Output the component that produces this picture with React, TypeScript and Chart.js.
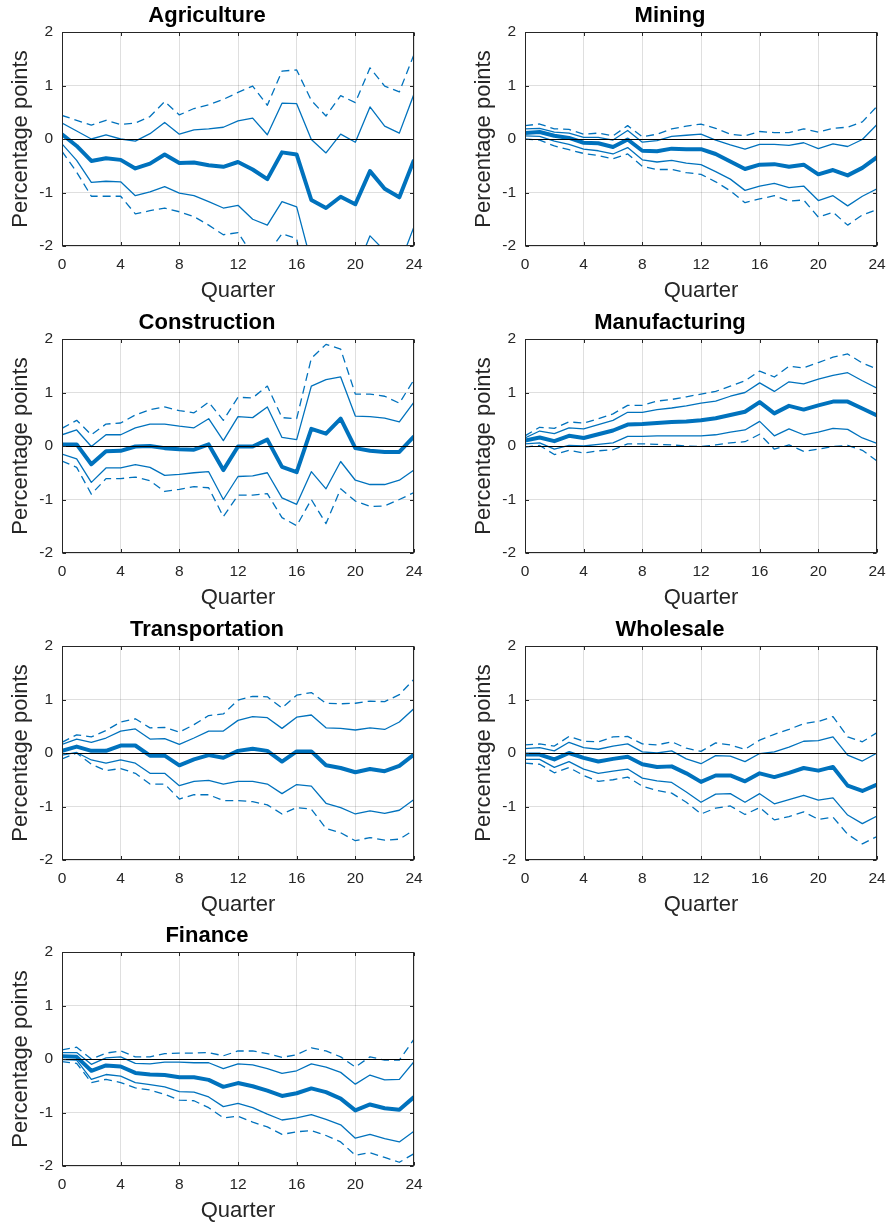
import React, { useEffect, useRef } from "react";
import { Chart, registerables } from "chart.js";

Chart.register(...registerables);

// Impulse responses by sector: median with 68% and 90% bands, quarters 0..24
const QUARTERS = [0, 1, 2, 3, 4, 5, 6, 7, 8, 9, 10, 11, 12, 13, 14, 15, 16, 17, 18, 19, 20, 21, 22, 23, 24];

const AGR_MED = [0.09, -0.13, -0.41, -0.36, -0.39, -0.55, -0.46, -0.29, -0.45, -0.44, -0.49, -0.52, -0.43, -0.57, -0.75, -0.25, -0.29, -1.14, -1.29, -1.08, -1.22, -0.6, -0.93, -1.09, -0.39];
const AGR_HI68 = [0.3, 0.15, 0.0, 0.075, 0.0, -0.04, 0.1, 0.31, 0.09, 0.17, 0.19, 0.22, 0.34, 0.39, 0.08, 0.67, 0.66, -0.01, -0.26, 0.09, -0.06, 0.6, 0.24, 0.11, 0.84];
const AGR_HI90 = [0.44, 0.35, 0.26, 0.35, 0.27, 0.3, 0.42, 0.7, 0.45, 0.57, 0.64, 0.74, 0.87, 0.99, 0.63, 1.27, 1.29, 0.72, 0.43, 0.81, 0.68, 1.33, 0.99, 0.88, 1.58];
const AGR_LO68 = [-0.09, -0.4, -0.81, -0.79, -0.8, -1.06, -0.99, -0.89, -1.01, -1.06, -1.17, -1.29, -1.24, -1.5, -1.61, -1.17, -1.27, -2.31, -2.6, -2.35, -2.49, -1.81, -2.09, -2.36, -1.64];
const AGR_LO90 = [-0.23, -0.62, -1.07, -1.07, -1.07, -1.4, -1.34, -1.29, -1.36, -1.45, -1.61, -1.79, -1.75, -2.17, -2.15, -1.77, -1.86, -3.4, -3.3, -3.1, -3.2, -2.6, -2.8, -3.0, -2.4];

const MIN_MED = [0.11, 0.13, 0.06, 0.02, -0.07, -0.08, -0.15, -0.01, -0.22, -0.23, -0.18, -0.19, -0.19, -0.28, -0.42, -0.56, -0.48, -0.47, -0.52, -0.48, -0.66, -0.58, -0.68, -0.54, -0.34];
const MIN_HI68 = [0.19, 0.2, 0.13, 0.11, 0.03, 0.03, -0.02, 0.16, -0.06, -0.03, 0.05, 0.07, 0.09, -0.02, -0.11, -0.19, -0.1, -0.1, -0.12, -0.07, -0.18, -0.09, -0.14, -0.01, 0.27];
const MIN_HI90 = [0.25, 0.28, 0.19, 0.18, 0.09, 0.11, 0.06, 0.25, 0.04, 0.09, 0.19, 0.24, 0.28, 0.2, 0.09, 0.06, 0.14, 0.12, 0.12, 0.19, 0.13, 0.2, 0.22, 0.32, 0.61];
const MIN_LO68 = [0.06, 0.05, -0.04, -0.1, -0.19, -0.22, -0.28, -0.16, -0.39, -0.43, -0.4, -0.45, -0.48, -0.61, -0.75, -0.96, -0.88, -0.83, -0.91, -0.88, -1.15, -1.06, -1.25, -1.07, -0.93];
const MIN_LO90 = [0.0, -0.02, -0.13, -0.2, -0.27, -0.31, -0.37, -0.28, -0.51, -0.57, -0.57, -0.63, -0.66, -0.8, -0.97, -1.19, -1.12, -1.06, -1.16, -1.14, -1.46, -1.37, -1.61, -1.42, -1.32];

const CON_MED = [0.03, 0.03, -0.34, -0.1, -0.09, -0.01, 0.0, -0.04, -0.06, -0.07, 0.03, -0.45, -0.01, -0.01, 0.12, -0.39, -0.49, 0.32, 0.23, 0.51, -0.04, -0.09, -0.11, -0.11, 0.18];
const CON_HI68 = [0.21, 0.3, -0.01, 0.21, 0.21, 0.34, 0.41, 0.41, 0.37, 0.34, 0.51, 0.1, 0.55, 0.53, 0.73, 0.16, 0.12, 1.12, 1.24, 1.29, 0.56, 0.55, 0.52, 0.45, 0.82];
const CON_HI90 = [0.33, 0.48, 0.21, 0.41, 0.43, 0.58, 0.68, 0.73, 0.66, 0.62, 0.82, 0.48, 0.91, 0.9, 1.12, 0.53, 0.51, 1.64, 1.9, 1.81, 0.97, 0.97, 0.93, 0.8, 1.24];
const CON_LO68 = [-0.15, -0.24, -0.68, -0.41, -0.41, -0.35, -0.4, -0.55, -0.53, -0.5, -0.48, -1.0, -0.57, -0.56, -0.5, -0.97, -1.09, -0.48, -0.8, -0.29, -0.64, -0.72, -0.72, -0.64, -0.45];
const CON_LO90 = [-0.28, -0.4, -0.9, -0.61, -0.61, -0.58, -0.65, -0.85, -0.81, -0.76, -0.78, -1.32, -0.92, -0.92, -0.89, -1.34, -1.49, -1.0, -1.45, -0.8, -1.03, -1.13, -1.12, -1.0, -0.87];

const MAN_MED = [0.1, 0.16, 0.09, 0.19, 0.15, 0.22, 0.29, 0.4, 0.41, 0.43, 0.45, 0.46, 0.48, 0.52, 0.58, 0.64, 0.82, 0.61, 0.75, 0.68, 0.76, 0.83, 0.83, 0.7, 0.57];
const MAN_HI68 = [0.15, 0.28, 0.23, 0.34, 0.32, 0.4, 0.48, 0.63, 0.63, 0.68, 0.71, 0.75, 0.8, 0.84, 0.93, 1.0, 1.18, 1.02, 1.2, 1.16, 1.25, 1.32, 1.37, 1.22, 1.08];
const MAN_HI90 = [0.19, 0.35, 0.33, 0.45, 0.43, 0.51, 0.6, 0.76, 0.76, 0.84, 0.87, 0.92, 0.97, 1.02, 1.12, 1.22, 1.4, 1.29, 1.49, 1.46, 1.56, 1.66, 1.72, 1.55, 1.44];
const MAN_LO68 = [0.04, 0.06, -0.06, 0.01, 0.0, 0.03, 0.06, 0.18, 0.18, 0.19, 0.19, 0.19, 0.19, 0.21, 0.26, 0.3, 0.46, 0.19, 0.32, 0.21, 0.26, 0.33, 0.31, 0.15, 0.05];
const MAN_LO90 = [-0.02, 0.01, -0.16, -0.08, -0.13, -0.09, -0.07, 0.04, 0.04, 0.03, 0.02, 0.0, -0.01, 0.02, 0.06, 0.08, 0.22, -0.06, 0.02, -0.1, -0.06, -0.01, 0.01, -0.08, -0.28];

const TRA_MED = [0.04, 0.12, 0.04, 0.04, 0.14, 0.14, -0.05, -0.05, -0.23, -0.12, -0.04, -0.09, 0.04, 0.08, 0.04, -0.16, 0.03, 0.03, -0.23, -0.28, -0.36, -0.3, -0.34, -0.24, -0.03];
const TRA_HI68 = [0.16, 0.26, 0.2, 0.28, 0.41, 0.45, 0.26, 0.27, 0.16, 0.28, 0.41, 0.41, 0.61, 0.68, 0.66, 0.46, 0.67, 0.71, 0.47, 0.46, 0.43, 0.47, 0.44, 0.58, 0.83];
const TRA_HI90 = [0.2, 0.34, 0.3, 0.42, 0.58, 0.64, 0.47, 0.48, 0.39, 0.53, 0.7, 0.73, 0.99, 1.06, 1.05, 0.84, 1.08, 1.13, 0.93, 0.92, 0.93, 0.97, 0.96, 1.09, 1.38];
const TRA_LO68 = [-0.04, 0.01, -0.13, -0.19, -0.13, -0.19, -0.38, -0.38, -0.61, -0.53, -0.51, -0.58, -0.53, -0.53, -0.58, -0.76, -0.59, -0.62, -0.94, -1.02, -1.14, -1.08, -1.13, -1.07, -0.87];
const TRA_LO90 = [-0.11, 0.0, -0.21, -0.33, -0.29, -0.38, -0.58, -0.58, -0.86, -0.78, -0.78, -0.89, -0.89, -0.91, -0.97, -1.14, -1.02, -1.05, -1.41, -1.49, -1.64, -1.58, -1.63, -1.61, -1.44];

const WHO_MED = [-0.03, -0.03, -0.12, 0.0, -0.09, -0.16, -0.11, -0.07, -0.21, -0.26, -0.25, -0.38, -0.54, -0.42, -0.42, -0.53, -0.38, -0.45, -0.37, -0.28, -0.33, -0.26, -0.61, -0.71, -0.59];
const WHO_HI68 = [0.08, 0.1, 0.04, 0.2, 0.1, 0.07, 0.13, 0.17, 0.02, 0.0, 0.04, -0.11, -0.2, -0.05, -0.06, -0.16, -0.01, 0.02, 0.11, 0.22, 0.23, 0.3, -0.04, -0.15, 0.0];
const WHO_HI90 = [0.15, 0.17, 0.13, 0.31, 0.22, 0.21, 0.3, 0.31, 0.17, 0.15, 0.21, 0.09, 0.03, 0.19, 0.15, 0.07, 0.24, 0.35, 0.44, 0.55, 0.59, 0.68, 0.3, 0.21, 0.38];
const WHO_LO68 = [-0.12, -0.12, -0.27, -0.16, -0.3, -0.38, -0.34, -0.3, -0.47, -0.52, -0.55, -0.73, -0.92, -0.77, -0.76, -0.92, -0.76, -0.95, -0.87, -0.79, -0.88, -0.84, -1.16, -1.32, -1.18];
const WHO_LO90 = [-0.19, -0.21, -0.37, -0.27, -0.42, -0.53, -0.5, -0.45, -0.62, -0.7, -0.75, -0.92, -1.14, -1.03, -0.99, -1.15, -1.02, -1.25, -1.19, -1.1, -1.24, -1.2, -1.52, -1.7, -1.56];

const FIN_MED = [0.05, 0.04, -0.22, -0.12, -0.14, -0.26, -0.29, -0.3, -0.34, -0.34, -0.39, -0.52, -0.45, -0.51, -0.59, -0.69, -0.64, -0.55, -0.62, -0.74, -0.96, -0.85, -0.92, -0.95, -0.71];
const FIN_HI68 = [0.12, 0.12, -0.1, 0.02, 0.04, -0.08, -0.09, -0.06, -0.06, -0.07, -0.07, -0.18, -0.09, -0.11, -0.18, -0.27, -0.22, -0.09, -0.15, -0.25, -0.47, -0.3, -0.39, -0.38, -0.05];
const FIN_HI90 = [0.17, 0.22, 0.0, 0.11, 0.15, 0.04, 0.04, 0.1, 0.11, 0.11, 0.12, 0.06, 0.15, 0.15, 0.1, 0.03, 0.08, 0.21, 0.15, 0.04, -0.15, 0.04, -0.02, -0.02, 0.37];
const FIN_LO68 = [-0.01, -0.02, -0.38, -0.29, -0.32, -0.44, -0.48, -0.52, -0.61, -0.62, -0.71, -0.89, -0.83, -0.91, -1.03, -1.14, -1.1, -1.04, -1.13, -1.23, -1.48, -1.41, -1.49, -1.55, -1.35];
const FIN_LO90 = [-0.05, -0.08, -0.44, -0.38, -0.44, -0.54, -0.58, -0.66, -0.77, -0.78, -0.91, -1.1, -1.07, -1.18, -1.27, -1.41, -1.36, -1.34, -1.43, -1.55, -1.8, -1.75, -1.84, -1.93, -1.77];

type Panel = {
  title: string;
  med: number[];
  hi68: number[];
  lo68: number[];
  hi90: number[];
  lo90: number[];
};

const PANELS: Panel[] = [
  { title: "Agriculture", med: AGR_MED, hi68: AGR_HI68, lo68: AGR_LO68, hi90: AGR_HI90, lo90: AGR_LO90 },
  { title: "Mining", med: MIN_MED, hi68: MIN_HI68, lo68: MIN_LO68, hi90: MIN_HI90, lo90: MIN_LO90 },
  { title: "Construction", med: CON_MED, hi68: CON_HI68, lo68: CON_LO68, hi90: CON_HI90, lo90: CON_LO90 },
  { title: "Manufacturing", med: MAN_MED, hi68: MAN_HI68, lo68: MAN_LO68, hi90: MAN_HI90, lo90: MAN_LO90 },
  { title: "Transportation", med: TRA_MED, hi68: TRA_HI68, lo68: TRA_LO68, hi90: TRA_HI90, lo90: TRA_LO90 },
  { title: "Wholesale", med: WHO_MED, hi68: WHO_HI68, lo68: WHO_LO68, hi90: WHO_HI90, lo90: WHO_LO90 },
  { title: "Finance", med: FIN_MED, hi68: FIN_HI68, lo68: FIN_LO68, hi90: FIN_HI90, lo90: FIN_LO90 },
];

const Y_TICK_LABELS = ["-2", "-1", "0", "1", "2"];

const BLUE = "#0072BD";
const TEXT = "#262626";
const GRID = "rgba(38,38,38,0.15)";
const FONT = '"Liberation Sans", Arial, Helvetica, sans-serif';

const CANVAS_W = 434;
const CANVAS_H = 306;
const PAD_RIGHT = 20;
const COL_LEFT = [0, 463];
const ROW_TOP = [0, 307, 614, 920];
const TICK_LEN = 3.5;

function line(values: number[], width: number, dash: number[]) {
  return {
    data: values.map((y, i) => ({ x: QUARTERS[i], y })),
    borderColor: BLUE,
    borderWidth: width,
    borderDash: dash,
    borderJoinStyle: "round" as const,
    borderCapStyle: "butt" as const,
    pointRadius: 0,
    tension: 0,
    fill: false,
    clip: 0,
  };
}

// Zero reference line, axes box and inward tick marks
const framePlugin = {
  id: "frame",
  afterDatasetsDraw(chart: any) {
    const { ctx, chartArea: a, scales } = chart;
    const xs = scales.x;
    const ys = scales.y;
    ctx.save();
    const y0 = Math.round(ys.getPixelForValue(0)) + 0.5;
    ctx.strokeStyle = "#000";
    ctx.lineWidth = 1;
    ctx.beginPath();
    ctx.moveTo(a.left, y0);
    ctx.lineTo(a.right, y0);
    ctx.stroke();

    ctx.strokeStyle = TEXT;
    ctx.lineWidth = 1;
    const L = Math.round(a.left) + 0.5;
    const R = Math.round(a.right) - 0.5;
    const T = Math.round(a.top) + 0.5;
    const B = Math.round(a.bottom) - 0.5;
    ctx.strokeRect(L, T, R - L, B - T);
    ctx.beginPath();
    for (const t of xs.ticks) {
      const x = Math.round(xs.getPixelForValue(t.value)) + 0.5;
      ctx.moveTo(x, B);
      ctx.lineTo(x, B - TICK_LEN);
      ctx.moveTo(x, T);
      ctx.lineTo(x, T + TICK_LEN);
    }
    for (const t of ys.ticks) {
      const y = Math.round(ys.getPixelForValue(t.value)) + 0.5;
      ctx.moveTo(L, y);
      ctx.lineTo(L + TICK_LEN, y);
      ctx.moveTo(R, y);
      ctx.lineTo(R - TICK_LEN, y);
    }
    ctx.stroke();
    ctx.restore();
  },
};

function SectorChart({ panel, left, top }: { panel: Panel; left: number; top: number }) {
  const ref = useRef<HTMLCanvasElement | null>(null);

  useEffect(() => {
    if (!ref.current) return;
    const chart = new Chart(ref.current, {
      type: "line",
      data: {
        datasets: [
          line(panel.med, 4, []),
          line(panel.hi68, 1.3, []),
          line(panel.lo68, 1.3, []),
          line(panel.hi90, 1.3, [8, 5]),
          line(panel.lo90, 1.3, [8, 5]),
        ] as any,
      },
      options: {
        responsive: false,
        animation: false,
        events: [],
        layout: { padding: { left: 0, top: 0, right: PAD_RIGHT, bottom: 0 } },
        plugins: {
          legend: { display: false },
          tooltip: { enabled: false },
          title: {
            display: true,
            text: panel.title,
            color: "#000",
            font: { family: FONT, size: 22, weight: "bold", lineHeight: 1.2 },
            padding: { top: 2.9, bottom: 2.7 },
          },
        },
        scales: {
          x: {
            type: "linear",
            min: 0,
            max: 24,
            afterFit: (s: any) => {
              s.height = 60;
            },
            ticks: {
              stepSize: 4,
              maxRotation: 0,
              autoSkip: false,
              padding: 9,
              color: TEXT,
              font: { family: FONT, size: 15.5 },
            },
            grid: { color: GRID, lineWidth: 1, drawTicks: false },
            border: { display: false },
            title: {
              display: true,
              text: "Quarter",
              color: TEXT,
              font: { family: FONT, size: 22, lineHeight: 1.2 },
              padding: { top: 0, bottom: 1.4 },
            },
          },
          y: {
            type: "linear",
            min: -2,
            max: 2,
            afterFit: (s: any) => {
              s.width = 62;
            },
            ticks: {
              stepSize: 1,
              padding: 9,
              color: TEXT,
              font: { family: FONT, size: 15.5 },
              callback: (v: any) => Y_TICK_LABELS[Number(v) + 2],
            },
            grid: { color: GRID, lineWidth: 1, drawTicks: false },
            border: { display: false },
            title: {
              display: true,
              text: "Percentage points",
              color: TEXT,
              font: { family: FONT, size: 22, lineHeight: 1.2 },
              padding: { top: 8.2, bottom: 0 },
            },
          },
        },
      } as any,
      plugins: [framePlugin],
    });
    return () => chart.destroy();
  }, [panel]);

  return (
    <canvas
      ref={ref}
      width={CANVAS_W}
      height={CANVAS_H}
      style={{ position: "absolute", left, top, width: CANVAS_W, height: CANVAS_H }}
    />
  );
}

export default function App() {
  return (
    <div
      style={{
        position: "absolute",
        left: 0,
        top: 0,
        width: 888,
        height: 1226,
        background: "#fff",
        overflow: "hidden",
      }}
    >
      {PANELS.map((p, i) => (
        <SectorChart key={p.title} panel={p} left={COL_LEFT[i % 2]} top={ROW_TOP[Math.floor(i / 2)]} />
      ))}
    </div>
  );
}
